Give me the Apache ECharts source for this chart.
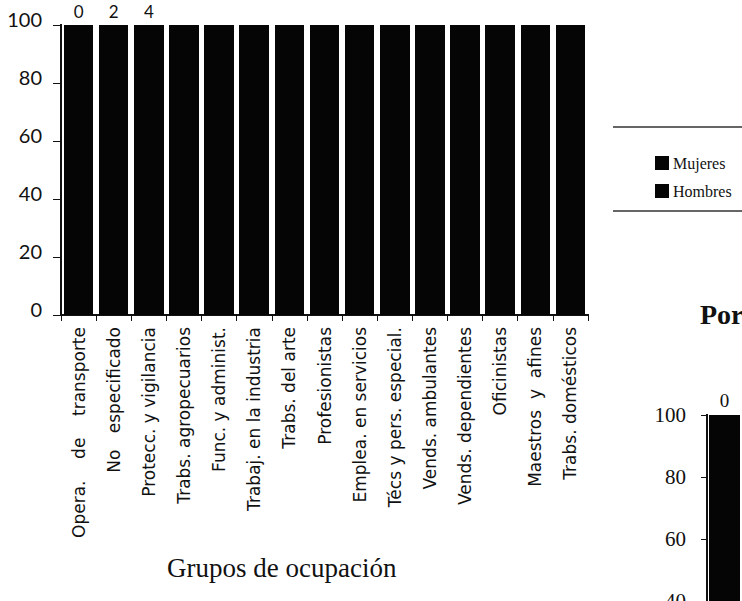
<!DOCTYPE html>
<html>
<head>
<meta charset="utf-8">
<script src="https://cdn.jsdelivr.net/npm/echarts@6/dist/echarts.min.js"></script>
<style>
  html, body { margin: 0; padding: 0; background: #fff; }
  #main { width: 742px; height: 601px; }
  /* sin suavizado en las barras: evita las juntas claras entre segmentos */
  #main svg path { shape-rendering: crispEdges; }
</style>
</head>
<body>
<div id="main"></div>
<script>
// grupos de ocupación y porcentajes
const grupos = [
  'Opera.    de    transporte', 'No   especificado', 'Protecc. y vigilancia',
  'Trabs. agropecuarios', 'Func. y administ.', 'Trabaj. en la industria',
  'Trabs. del arte', 'Profesionistas', 'Emplea. en servicios',
  'Técs y pers. especial.', 'Vends. ambulantes', 'Vends. dependientes',
  'Oficinistas', 'Maestros  y  afines', 'Trabs. domésticos'
];
const mujeres = [0, 2, 4, 8, 17, 18, 20, 25, 30, 38, 40, 42, 50, 60, 88];
const hombres = [100, 98, 96, 92, 83, 82, 80, 75, 70, 62, 60, 58, 50, 40, 12];

// segundo gráfico (solo se ve la primera barra)
const mujeres2 = [0, 3, 5, 9, 15, 20, 22, 28, 32, 36, 41, 45, 52, 62, 90];
const hombres2 = [100, 97, 95, 91, 85, 80, 78, 72, 68, 64, 59, 55, 48, 38, 10];

const negro = '#050505';
const sans = 'DejaVu Sans';
const sansNum = 'Lato';
const serif = 'Liberation Serif';

const barra = { color: negro, borderColor: negro, borderWidth: 1 };

let chart = echarts.init(document.getElementById('main'), null, { renderer: 'svg' });

chart.setOption({
  backgroundColor: '#fff',
  animation: false,
  title: [
    {
      text: 'Porcentaje por sexo',
      left: 695, top: 295,
      textStyle: { fontFamily: serif, fontSize: 28, fontWeight: 'bold', color: '#111' }
    },
    {
      text: 'Grupos de ocupación',
      left: 162, top: 549,
      textStyle: { fontFamily: serif, fontSize: 27, fontWeight: 'normal', color: '#111' }
    }
  ],
  legend: {
    orient: 'vertical',
    left: 655, top: 155, padding: 0,
    itemWidth: 12, itemHeight: 12, itemGap: 12,
    icon: 'rect',
    data: ['Mujeres', 'Hombres'],
    textStyle: { fontFamily: serif, fontSize: 16, color: '#111' }
  },
  graphic: [
    { type: 'line', shape: { x1: 613, y1: 127, x2: 742, y2: 127 }, style: { stroke: '#666', lineWidth: 1.5 } },
    { type: 'line', shape: { x1: 613, y1: 211, x2: 742, y2: 211 }, style: { stroke: '#666', lineWidth: 1.5 } }
  ],
  grid: [
    { left: 61, top: 25, width: 527, height: 290, outerBoundsMode: 'none', containLabel: false },
    { left: 707, top: 415, width: 526, height: 310, outerBoundsMode: 'none', containLabel: false }
  ],
  xAxis: [
    {
      type: 'category', gridIndex: 0, data: grupos,
      axisLine: { lineStyle: { color: '#111', width: 1.5 } },
      axisTick: { show: true, length: 6, lineStyle: { color: '#111' } },
      axisLabel: {
        rotate: 90, margin: 12, interval: 0,
        fontFamily: sans, fontSize: 17, color: '#111'
      }
    },
    {
      type: 'category', gridIndex: 1, data: grupos,
      axisLine: { lineStyle: { color: '#111', width: 1.5 } },
      axisTick: { show: true, length: 6 },
      axisLabel: { show: false }
    }
  ],
  yAxis: [
    {
      type: 'value', gridIndex: 0, min: 0, max: 100, interval: 20,
      axisLine: { show: true, lineStyle: { color: '#111', width: 1.5 } },
      axisTick: { show: true, length: 8, lineStyle: { color: '#111' } },
      splitLine: { show: false },
      axisLabel: {
        margin: 19, fontFamily: sansNum, fontSize: 20, color: '#111',
        verticalAlign: 'bottom', lineHeight: 12
      }
    },
    {
      type: 'value', gridIndex: 1, min: 0, max: 100, interval: 20,
      axisLine: { show: true, lineStyle: { color: '#111', width: 1.5 } },
      axisTick: { show: true, length: 6, lineStyle: { color: '#111' } },
      splitLine: { show: false },
      axisLabel: { margin: 21, fontFamily: serif, fontSize: 21, color: '#111' }
    }
  ],
  series: [
    {
      name: 'Hombres', type: 'bar', stack: 'a', xAxisIndex: 0, yAxisIndex: 0,
      barCategoryGap: '16%', itemStyle: barra,
      data: hombres
    },
    {
      name: 'Mujeres', type: 'bar', stack: 'a', xAxisIndex: 0, yAxisIndex: 0,
      barCategoryGap: '16%', itemStyle: barra,
      label: { position: 'top', distance: 5, fontFamily: sansNum, fontSize: 17, color: '#111' },
      // solo se leen las etiquetas que quedan fuera del negro
      data: mujeres.map((x, i) => ({ value: x, label: { show: i < 3 } }))
    },
    {
      name: 'Hombres', type: 'bar', stack: 'b', xAxisIndex: 1, yAxisIndex: 1,
      barCategoryGap: '14%', itemStyle: barra,
      data: hombres2
    },
    {
      name: 'Mujeres', type: 'bar', stack: 'b', xAxisIndex: 1, yAxisIndex: 1,
      barCategoryGap: '14%', itemStyle: barra,
      label: { position: 'top', distance: 5, fontFamily: serif, fontSize: 19, color: '#111' },
      data: mujeres2.map((x, i) => ({ value: x, label: { show: i === 0 } }))
    }
  ]
});
</script>
</body>
</html>
